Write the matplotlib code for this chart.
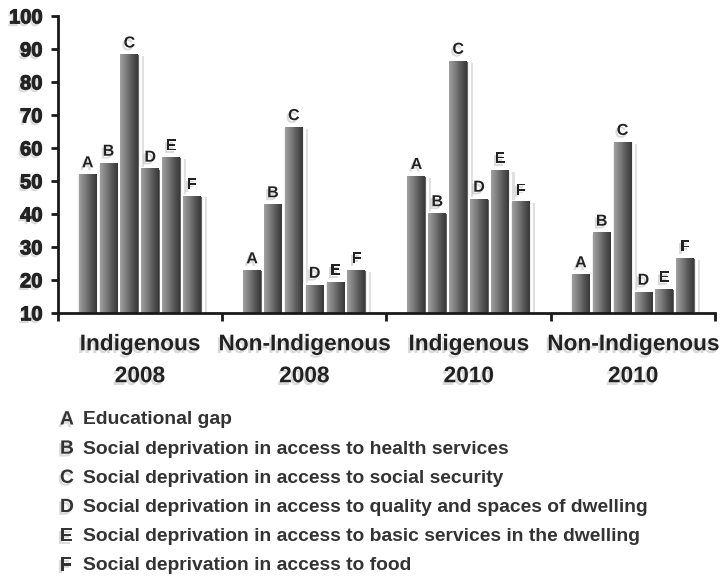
import numpy as np
import matplotlib.pyplot as plt
import matplotlib.patheffects as pe
from matplotlib.colors import LinearSegmentedColormap

# data
groups = ['Indigenous\n2008', 'Non-Indigenous\n2008', 'Indigenous\n2010', 'Non-Indigenous\n2010']
letters = ['A', 'B', 'C', 'D', 'E', 'F']
indigenous_2008 = [52.3, 55.8, 88.6, 54.0, 57.4, 45.8]
non_indigenous_2008 = [23.2, 43.2, 66.6, 18.8, 19.7, 23.2]
indigenous_2010 = [51.8, 40.5, 86.7, 44.9, 53.6, 44.0]
non_indigenous_2010 = [22.0, 34.6, 62.1, 16.7, 17.5, 26.8]
descriptions = ['Educational gap',
                'Social deprivation in access to health services',
                'Social deprivation in access to social security',
                'Social deprivation in access to quality and spaces of dwelling',
                'Social deprivation in access to basic services in the dwelling',
                'Social deprivation in access to food']
y_ticks = [10, 20, 30, 40, 50, 60, 70, 80, 90, 100]

series = [indigenous_2008, non_indigenous_2008, indigenous_2010, non_indigenous_2010]

font = ['Liberation Sans', 'DejaVu Sans']
shadow = [pe.SimplePatchShadow(offset=(-1.5, -2), shadow_rgbFace='#888888', alpha=0.3), pe.Normal()]
heavy = [pe.Stroke(linewidth=0.8, foreground='#222222'),
         pe.SimplePatchShadow(offset=(-1.5, -2), shadow_rgbFace='#888888', alpha=0.3), pe.Normal()]

fig = plt.figure(figsize=(7.21, 5.88), dpi=100)
ax = fig.add_axes([0.080, 0.468, 0.912, 0.505])

cmap = LinearSegmentedColormap.from_list('bar', ['#a0a0a0', '#7e7e7e', '#585858', '#383838'])
grad = np.linspace(0, 1, 64).reshape(1, -1)

width = 0.127
x = np.arange(len(groups))
for g, vals in enumerate(series):
    for i, v in enumerate(vals):
        xpos = x[g] + (i - 2.5) * width
        bar = ax.bar(xpos, v - 10, width=width, bottom=10, color='#666666',
                     edgecolor='white', linewidth=2, zorder=2)[0]
        bar.set_path_effects([pe.SimplePatchShadow(offset=(3, -2), shadow_rgbFace='#999999', alpha=0.3),
                              pe.Normal()])
        x0, y0 = bar.get_x(), bar.get_y()
        ax.imshow(grad, cmap=cmap, aspect='auto', zorder=3,
                  extent=[x0 + 0.009, x0 + bar.get_width() - 0.009, y0, y0 + bar.get_height() - 0.35])
        ax.text(xpos, v + 0.9, letters[i], ha='center', va='bottom', fontsize=11.5,
                fontweight='bold', color='#222222', family=font, zorder=5, path_effects=shadow)

ax.set_xlim(-0.5, 3.5)
ax.set_ylim(10, 100)
for s in ['top', 'right']:
    ax.spines[s].set_visible(False)
for s in ['left', 'bottom']:
    ax.spines[s].set_linewidth(2)
    ax.spines[s].set_color('#1a1a1a')
    ax.spines[s].set_zorder(6)

ax.set_yticks(y_ticks)
ax.set_yticklabels([str(t) for t in y_ticks], fontsize=14.5, fontweight='bold',
                   color='#222222', family=font, path_effects=heavy)
ax.tick_params(axis='y', length=5, width=2, color='#1a1a1a', pad=6)

ax.set_xticks(np.arange(-0.5, 4.0, 1.0))
ax.set_xticklabels([])
ax.tick_params(axis='x', which='major', length=6, width=2, color='#1a1a1a')
ax.set_xticks(x, groups, minor=True, fontsize=16.3, fontweight='bold', family=font,
              color='#222222', linespacing=1.5, path_effects=shadow)
ax.tick_params(axis='x', which='minor', length=0, pad=14)

# legend block
for i, (let, desc) in enumerate(zip(letters, descriptions)):
    yy = 1 - (420 + i * 29.2) / 588
    fig.text(60 / 721, yy, let, ha='left', va='center', fontsize=13.9, fontweight='bold',
             family=font, color='#333333', path_effects=shadow)
    fig.text(83 / 721, yy, desc, ha='left', va='center', fontsize=13.9, fontweight='bold',
             family=font, color='#333333')

fig.savefig('out.png', dpi=100)
